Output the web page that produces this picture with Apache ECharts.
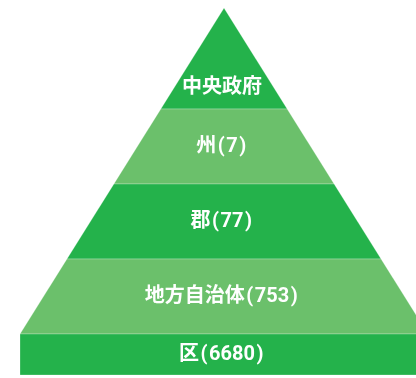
<!DOCTYPE html>
<html><head><meta charset="utf-8">
<script src="https://cdn.jsdelivr.net/npm/echarts@6/dist/echarts.min.js"></script>
<style>html,body{margin:0;padding:0;background:#fff}#c{width:416px;height:378px}</style>
</head><body><div id="c"></div>
<script>
// Pyramid levels (top to bottom)
const levels = ['中央政府', '州', '郡', '地方自治体', '区'];
const counts = [null, 7, 77, 753, 6680];
// band edges along vertical axis (level units)
const bandEdges = [8, 109, 184, 259, 334, 375];

const colors = ['#24b24b', '#6bc06b'];
const labels = levels.map((n, i) => counts[i] == null ? '{t|' + n + '}' : '{t|' + n + '}{p|(}{t|' + counts[i] + '}{p|)}');

const data = levels.map((n, i) => [i, bandEdges[i], bandEdges[i + 1]]);

const apexX = 224, apexY = 8, baseY = 334, baseLeft = 20;
const slope = (apexX - baseLeft) / (baseY - apexY);
const fam = 'Roboto, "Noto Sans CJK JP", sans-serif';

const chart = echarts.init(document.getElementById('c'), null, {renderer: 'canvas'});
chart.setOption({
  animation: false,
  grid: {left: 0, right: 0, top: 0, bottom: 0},
  xAxis: {type: 'value', min: 0, max: 416, show: false},
  yAxis: {type: 'value', min: 0, max: 378, inverse: true, show: false},
  series: [{
    type: 'custom',
    data: data,
    renderItem: function (params, api) {
      const i = api.value(0), y0 = api.value(1), y1 = api.value(2);
      let pts;
      if (i === levels.length - 1) {
        pts = [[baseLeft, y0], [apexX + (apexX - baseLeft) + 10, y0], [apexX + (apexX - baseLeft) + 10, y1], [baseLeft, y1]];
      } else {
        const w0 = (y0 - apexY) * slope, w1 = (y1 - apexY) * slope;
        pts = [[apexX - w0, y0], [apexX + w0, y0], [apexX + w1, y1], [apexX - w1, y1]];
      }
      const points = pts.map(p => api.coord(p));
      const ly = i === 0 ? 88 : (y0 + y1) / 2;
      const lc = api.coord([222, ly]);
      return {
        type: 'group',
        children: [{
          type: 'polygon',
          shape: {points: points},
          style: {fill: colors[i % 2], stroke: 'rgba(255,255,255,0.25)', lineWidth: 1}
        }, {
          type: 'text',
          x: lc[0], y: lc[1],
          style: {
            text: labels[i], fill: '#fff', align: 'center', verticalAlign: 'middle',
            fontSize: 20, fontWeight: 'bold', fontFamily: fam,
            rich: {
              t: {fill: '#fff', fontSize: 20, fontWeight: 'bold', fontFamily: fam},
              p: {fill: '#fff', fontSize: 20, fontWeight: 'bold', fontFamily: fam, padding: [0, 1.5]}
            }
          }
        }]
      };
    }
  }]
});
</script></body></html>
